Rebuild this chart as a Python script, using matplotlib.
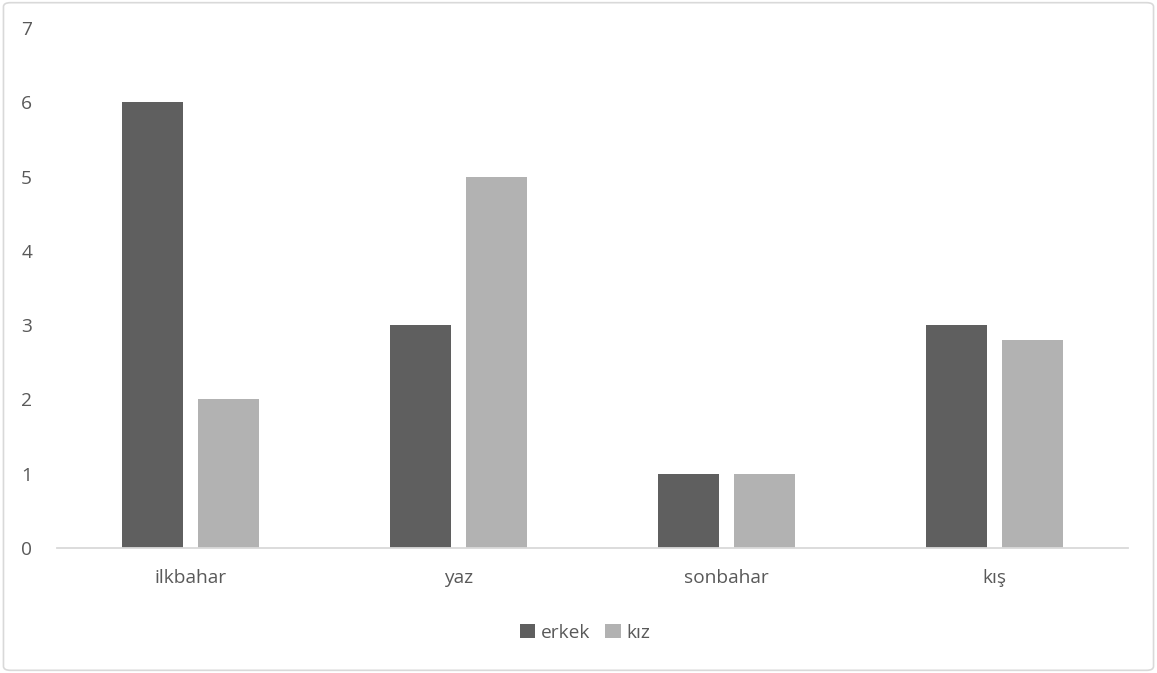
import matplotlib.pyplot as plt
import numpy as np
from matplotlib.patches import FancyBboxPatch

plt.rcParams['font.family'] = ['Open Sans', 'DejaVu Sans']

mevsimler = ['ilkbahar', 'yaz', 'sonbahar', 'kış']
erkek = [6, 3, 1, 3]
kiz = [2, 5, 1, 2.8]

fig = plt.figure(figsize=(11.57, 6.73), dpi=100)
ax = fig.add_axes([0.0493, 0.1857, 0.9257, 0.7727])

x = np.arange(len(mevsimler))
w = 0.228
ax.bar(x - 0.142, erkek, w, color='#5f5f5f', label='erkek')
ax.bar(x + 0.142, kiz, w, color='#b2b2b2', label='kız')

ax.set_xlim(-0.5, 3.5)
ax.set_ylim(0, 7)
ax.set_yticks(range(8))
ax.set_xticks(x)
ax.set_xticklabels(mevsimler)
ax.tick_params(length=0, labelsize=13.8, labelcolor='#595959')
ax.tick_params(axis='y', pad=18)
ax.tick_params(axis='x', pad=15)
for s in ['top', 'right', 'left']:
    ax.spines[s].set_visible(False)
ax.spines['bottom'].set_color('#d9d9d9')
ax.spines['bottom'].set_linewidth(1.3)

ax.legend(loc='center', bbox_to_anchor=(0.493, -0.163), ncol=2, frameon=False,
          fontsize=13.8, labelcolor='#595959', handlelength=0.8, handleheight=0.8,
          handletextpad=0.3, columnspacing=0.8)

fig.patches.append(FancyBboxPatch((0.003, 0.004), 0.994, 0.992,
                                  boxstyle='round,pad=0,rounding_size=0.006',
                                  transform=fig.transFigure, fill=False,
                                  edgecolor='#d9d9d9', linewidth=1.2))

fig.savefig('out.png', dpi=100)
